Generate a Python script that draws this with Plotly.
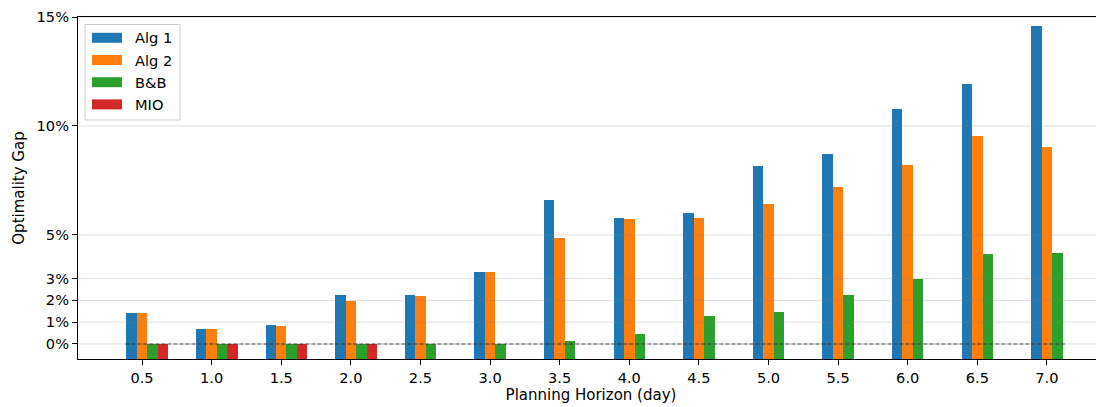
import plotly.graph_objects as go

horizons = [0.5, 1.0, 1.5, 2.0, 2.5, 3.0, 3.5, 4.0, 4.5, 5.0, 5.5, 6.0, 6.5, 7.0]
tick_labels = [f"{h:.1f}" for h in horizons]
alg1 = [1.44, 0.69, 0.87, 2.25, 2.26, 3.30, 6.60, 5.78, 6.01, 8.17, 8.72, 10.78, 11.93, 14.59]
alg2 = [1.44, 0.69, 0.83, 1.97, 2.20, 3.30, 4.86, 5.73, 5.78, 6.42, 7.20, 8.21, 9.54, 9.04]
bnb = [0.0, 0.0, 0.0, 0.0, 0.0, 0.0, 0.14, 0.46, 1.28, 1.47, 2.25, 2.98, 4.13, 4.17]
mio = [0.0, 0.0, 0.0, 0.0, None, None, None, None, None, None, None, None, None, None]

series = [("Alg 1", alg1, "#1f77b4"), ("Alg 2", alg2, "#ff7f0e"),
          ("B&B", bnb, "#2ca02c"), ("MIO", mio, "#d62728")]
y_ticks = [0, 1, 2, 3, 5, 10, 15]
y_tick_text = [f"{t}%" for t in y_ticks]

BASE = -1.0
WIDTH = 0.075
offsets = [-0.1125, -0.0375, 0.0375, 0.1125]

# the page body adds an 8px margin; size the figure so it fills the window
PAD = 8
W, H = 1104 - PAD, 407 - PAD
# plot-area geometry in window pixels
L, R, T, B = 78, 1104, 17, 359
def px(x):
    return (x - L) / (R - L)
def py(y):
    return (B - y) / (B - T)

FS = 14.6

fig = go.Figure()
for (name, vals, color), off in zip(series, offsets):
    xs = [h for h, v in zip(horizons, vals) if v is not None]
    ys = [v - BASE for v in vals if v is not None]
    fig.add_trace(go.Bar(x=xs, y=ys, base=BASE, name=name, width=WIDTH, offset=off,
                         marker=dict(color=color, line=dict(width=0)), showlegend=False))

shapes = []
for t in y_ticks:
    shapes.append(dict(type="line", xref="paper", x0=0, x1=1, yref="y", y0=t, y1=t,
                       line=dict(color="rgba(128,128,128,0.25)", width=1), layer="above"))
shapes.append(dict(type="line", xref="x", x0=horizons[0] - 0.12, x1=horizons[-1] + 0.13,
                   yref="y", y0=0, y1=0,
                   line=dict(color="rgba(40,40,40,0.8)", width=1.1, dash="4px,2px"), layer="above"))

# legend drawn manually to mimic the matplotlib legend
annotations = []
shapes.append(dict(type="rect", xref="paper", yref="paper",
                   x0=px(85), x1=px(180), y0=py(24.5), y1=py(120),
                   fillcolor="rgba(255,255,255,0.8)", line=dict(color="#d0d0d0", width=1),
                   layer="above"))
for i, (name, vals, color) in enumerate(series):
    cy = 37.8 + i * 22.2
    shapes.append(dict(type="rect", xref="paper", yref="paper",
                       x0=px(92), x1=px(122), y0=py(cy - 5), y1=py(cy + 5),
                       fillcolor=color, line=dict(width=0), layer="above"))
    annotations.append(dict(xref="paper", yref="paper", x=px(133), y=py(cy),
                            xanchor="left", yanchor="middle", text=name, showarrow=False,
                            font=dict(size=FS)))

font = "DejaVu Sans, sans-serif"
fig.update_layout(
    width=W, height=H,
    margin=dict(l=L - PAD, r=1104 - R, t=T - PAD, b=407 - B, pad=0),
    paper_bgcolor="white", plot_bgcolor="white",
    barmode="overlay", bargap=0,
    font=dict(family=font, size=FS, color="black"),
    shapes=shapes, annotations=annotations,
    showlegend=False,
    xaxis=dict(range=[0.04, 7.41], tickvals=horizons, ticktext=tick_labels,
               showgrid=False, zeroline=False, showline=True, mirror=True,
               linecolor="black", linewidth=1.1, ticks="outside", ticklen=5,
               tickcolor="black", tickwidth=1, automargin=False,
               tickfont=dict(size=FS),
               title=dict(text="Planning Horizon (day)", standoff=4, font=dict(size=15))),
    yaxis=dict(range=[-0.69, 15], tickvals=y_ticks, ticktext=y_tick_text,
               showgrid=False, zeroline=False, showline=True, mirror=False,
               linecolor="black", linewidth=1.1, ticks="outside", ticklen=5,
               tickcolor="black", tickwidth=1, automargin=False,
               tickfont=dict(size=FS),
               title=dict(text="Optimality Gap", standoff=8, font=dict(size=15))),
)
fig.write_html("out.html")
